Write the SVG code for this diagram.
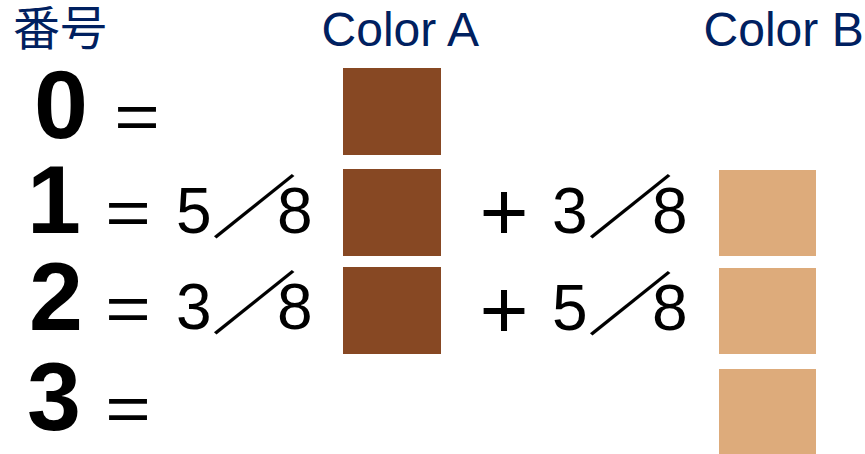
<svg xmlns="http://www.w3.org/2000/svg" width="865" height="454" viewBox="0 0 865 454">
<style>
.hdr{font-family:"Liberation Sans","Noto Sans CJK JP",Arial,sans-serif;fill:#002060;font-size:48px}
.cjk{font-family:"Noto Sans CJK JP","Noto Sans CJK SC",sans-serif;fill:#002060;font-size:47px}
.idx{font-family:"Liberation Sans",Arial,sans-serif;font-weight:bold;font-size:97px;fill:#000}
.num{font-family:"Liberation Sans",Arial,sans-serif;font-size:64px;fill:#000}
.sl{font-family:"Noto Sans CJK JP","Noto Sans CJK SC",sans-serif;font-size:64px;fill:#000}
.op{font-family:"Liberation Sans",Arial,sans-serif;font-size:64px;fill:#000;text-anchor:middle}
.pl{font-family:"Liberation Sans",Arial,sans-serif;font-size:84px;fill:#000;text-anchor:middle}
.a{fill:#874823}
.b{fill:#DDAB7B}
</style>
<rect width="865" height="454" fill="#fff"/>
<g id="header">
<text class="cjk" x="13" y="45">番号</text>
<text class="hdr" x="321.6" y="46">Color A</text>
<text class="hdr" x="703.6" y="46">Color B</text>
</g>
<g id="row0">
<text class="idx" x="34" y="138">0</text>
<text class="op" transform="translate(137,138.6) scale(1.22,1)" x="0" y="0">=</text>
<rect class="a" x="343" y="68" width="98" height="87"/>
</g>
<g id="row1">
<text class="idx" x="27" y="233">1</text>
<text class="op" transform="translate(128,235) scale(1.22,1)" x="0" y="0">=</text>
<text class="num" x="176" y="233">5</text>
<text class="sl" transform="translate(211,233) scale(1.35,1.08)" x="0" y="0">／</text>
<text class="num" x="277" y="233">8</text>
<rect class="a" x="343" y="169" width="98" height="87"/>
<text class="pl" x="504" y="240">+</text>
<text class="num" x="552" y="233">3</text>
<text class="sl" transform="translate(587,233) scale(1.35,1.08)" x="0" y="0">／</text>
<text class="num" x="652" y="233">8</text>
<rect class="b" x="719" y="170" width="97" height="86"/>
</g>
<g id="row2">
<text class="idx" x="29" y="330">2</text>
<text class="op" transform="translate(128,330.6) scale(1.22,1)" x="0" y="0">=</text>
<text class="num" x="176" y="329">3</text>
<text class="sl" transform="translate(211,329) scale(1.35,1.08)" x="0" y="0">／</text>
<text class="num" x="277" y="329">8</text>
<rect class="a" x="343" y="267" width="98" height="87"/>
<text class="pl" x="504" y="338">+</text>
<text class="num" x="552" y="330">5</text>
<text class="sl" transform="translate(587,330) scale(1.35,1.08)" x="0" y="0">／</text>
<text class="num" x="652" y="330">8</text>
<rect class="b" x="719" y="268" width="97" height="86"/>
</g>
<g id="row3">
<text class="idx" x="27" y="430">3</text>
<text class="op" transform="translate(128,431) scale(1.22,1)" x="0" y="0">=</text>
<rect class="b" x="719" y="369" width="97" height="85"/>
</g>
</svg>
